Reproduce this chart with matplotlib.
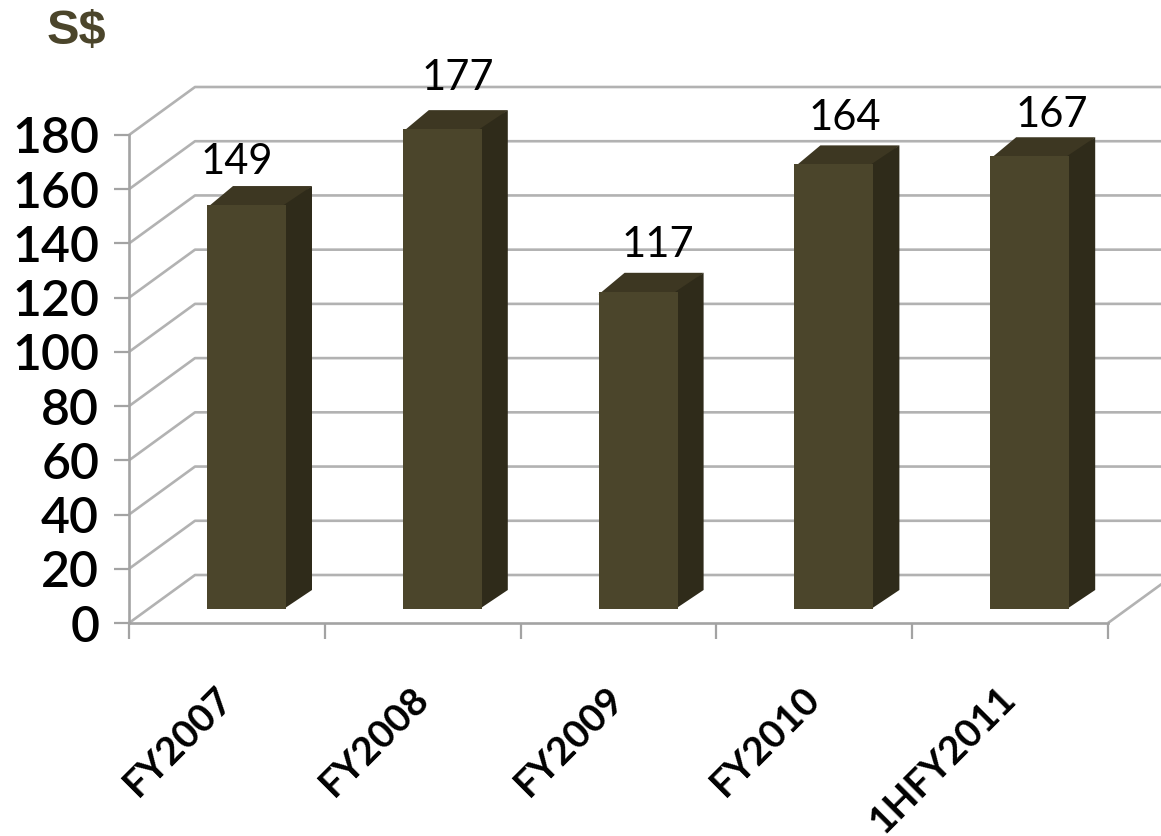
#!/usr/bin/env python3
"""3-D style column chart of half-year and full-year figures, in S$."""
import matplotlib as mpl
import matplotlib.pyplot as plt
from matplotlib.patches import Polygon

W, H = 1161, 836
mpl.rcParams.update({"font.family": ["Lato", "DejaVu Sans"], "figure.dpi": 100})

periods = ["FY2007", "FY2008", "FY2009", "FY2010", "1HFY2011"]
values = [149, 177, 117, 164, 167]
y_ticks = [0, 20, 40, 60, 80, 100, 120, 140, 160, 180]

# hand placement of the value labels, in points from the bar's top centre
label_dx = [-7, 11, 14, 8, 16]
label_dy = [17, 23, 20, 20, 16]

FRONT, TOP, SIDE = "#4b452b", "#3d3722", "#2f2b1a"
GRID = "#b2b2b2"
AXIS = "#a3a3a3"

fig = plt.figure(figsize=(W / 100, H / 100), facecolor="white")
ax = fig.add_axes([129 / W, 1 - 623 / H, (1108 - 129) / W, (623 - 135) / H])
ax.set_xlim(0, 5)
ax.set_ylim(0, 180)
ax.patch.set_visible(False)

# depth of the box in data units (66 px across, 48 px up)
DX = 66 / (979 / 5)
DY = 48 / (488 / 180)
# bars stand part way into the floor
BAR_DX, BAR_DY = DX * 26 / 66, DY * 19 / 48
BAR_X0 = 78 / (979 / 5)
BAR_W = 79 / (979 / 5)
BAR_BASE = 14 / (488 / 180)

grid_kw = dict(color=GRID, lw=1.9, zorder=1, clip_on=False, solid_capstyle="butt")
for v in y_ticks:
    # diagonal on the side wall, then across the back wall
    ax.plot([0, DX, 5 + DX], [v, v + DY, v + DY], **grid_kw)
ax.plot([5, 5 + DX], [0, DY], **grid_kw)

for s in ["top", "right"]:
    ax.spines[s].set_visible(False)
for s in ["left", "bottom"]:
    ax.spines[s].set_color(AXIS)
    ax.spines[s].set_linewidth(1.9)

ax.set_yticks(y_ticks)
ax.set_xticks(range(6))
ax.set_xticklabels([])
ax.tick_params(axis="y", length=10.5, width=1.6, color=AXIS, labelsize=36, labelcolor="black",
               pad=11)
ax.tick_params(axis="x", length=11.5, width=1.6, color=AXIS)
for lab in ax.get_yticklabels():
    lab.set_fontweight("semibold")

xs = [i + BAR_X0 for i in range(len(values))]
ax.bar(xs, values, BAR_W, bottom=BAR_BASE, align="edge", color=FRONT, zorder=4, clip_on=False)
for x, v, ldx, ldy in zip(xs, values, label_dx, label_dy):
    top = BAR_BASE + v
    # side and top faces run slightly under the front face so no seam shows
    ax.add_patch(Polygon([(x, top - 1), (x + BAR_W, top - 1), (x + BAR_W + BAR_DX, top + BAR_DY),
                          (x + BAR_DX, top + BAR_DY)], fc=TOP, ec="none", zorder=3, clip_on=False))
    ax.add_patch(Polygon([(x + BAR_W * 0.97, BAR_BASE), (x + BAR_W + BAR_DX, BAR_BASE + BAR_DY),
                          (x + BAR_W + BAR_DX, top + BAR_DY), (x + BAR_W * 0.97, top)],
                         fc=SIDE, ec="none", zorder=3, clip_on=False))
    ax.annotate(str(v), xy=(x + BAR_W / 2, top), xytext=(ldx, ldy), textcoords="offset points",
                ha="center", va="bottom", fontsize=30, color="black", zorder=5,
                annotation_clip=False)

for i, lab in enumerate(periods):
    ax.annotate(lab, xy=(i + 0.5, 0), xytext=(-9, -41), textcoords="offset points", rotation=45,
                rotation_mode="anchor", ha="right", va="top", fontsize=28, fontweight="bold",
                color="black", annotation_clip=False)

fig.text(47 / W, 1 - 44 / H, "S$", fontsize=35, fontweight="bold", color=FRONT,
         family=["Liberation Sans", "DejaVu Sans"], ha="left", va="baseline")

fig.savefig("out.png", dpi=100, facecolor="white")
